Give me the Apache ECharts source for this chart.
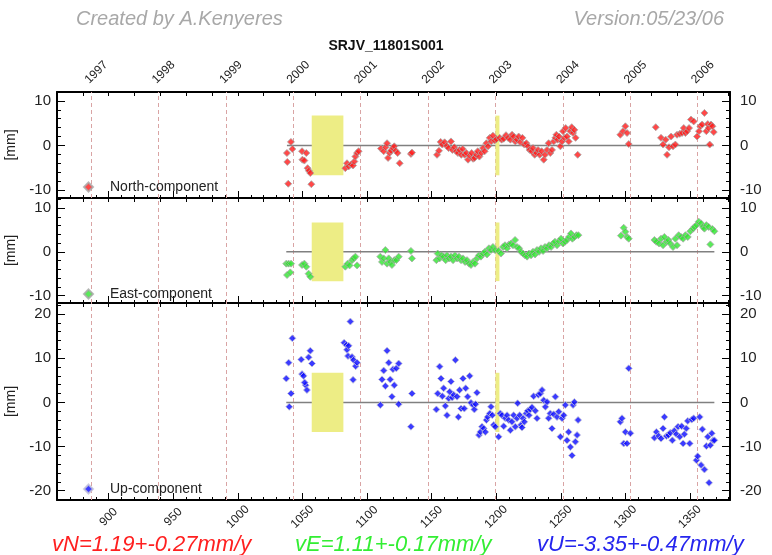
<!DOCTYPE html>
<html><head><meta charset="utf-8">
<script src="https://cdn.jsdelivr.net/npm/echarts@6/dist/echarts.min.js"></script>
<style>html,body{margin:0;padding:0;background:#fff}#c{width:772px;height:555px}</style>
</head><body><div id="c"></div>
<script>
// ---------------- DATA ----------------
const stationName = 'SRJV_11801S001';
const creditText = 'Created by A.Kenyeres';
const versionText = 'Version:05/23/06';
const yearTicks = [1997, 1998, 1999, 2000, 2001, 2002, 2003, 2004, 2005, 2006];
const weekTicks = [900, 950, 1000, 1050, 1100, 1150, 1200, 1250, 1300, 1350];
const yTicksNE = [-10, 0, 10];
const yTicksU = [-20, -10, 0, 10, 20];
const velocityTexts = ['vN=1.19+-0.27mm/y', 'vE=1.11+-0.17mm/y', 'vU=-3.35+-0.47mm/y'];
// equipment-change spans [GPS week start, end] and half height of the marker box (mm)
const gapSpans = [[1057.2, 1081.7], [1199.4, 1202.5]];
const gapHalfHeight = [6.7];

const northData = [
 [1038.0,-1.7],[1038.3,-3.7],[1039.0,-8.6],[1041.1,0.8],[1042.2,-0.8],[1049.7,-1.3],[1050.0,-3.2],[1051.5,-3.4],
 [1053.0,-1.7],[1054.0,-5.1],[1055.0,-5.7],[1056.1,-6.2],[1056.9,-8.7],
 [1083.2,-5.1],[1084.5,-4.0],[1085.8,-4.7],[1087.6,-4.3],[1089.2,-4.5],[1090.2,-3.6],[1091.0,-2.5],[1092.3,-1.7],[1093.5,-1.3],
 [1110.8,-0.7],[1112.9,-1.3],[1114.4,-0.4],[1115.5,0.5],[1116.3,-2.8],[1117.5,-1.7],[1118.6,-1.2],[1120.1,-0.6],
 [1121.1,-0.2],[1122.2,-1.2],[1123.7,-1.7],[1125.3,-4.0],[1134.0,-1.9],[1134.8,-1.6],
 [1154.2,-2.1],[1155.7,-1.2],[1157.0,0.8],[1158.3,0.2],[1160.1,0.7],[1161.7,-0.1],[1163.2,-0.6],[1165.0,0.9],
 [1166.1,-1.0],[1167.6,-0.4],[1169.1,-1.3],[1170.4,-1.7],[1171.7,-1.0],[1173.0,-2.1],[1174.1,-0.8],[1175.6,-2.1],
 [1176.9,-1.7],[1178.2,-3.2],[1179.5,-2.3],[1181.0,-1.7],[1182.1,-3.0],[1183.3,-2.8],[1184.6,-2.1],[1185.7,-1.3],
 [1187.0,-2.5],[1188.5,-1.7],[1189.8,-0.6],[1191.1,-1.3],[1192.4,0.5],[1193.7,-0.2],[1195.0,1.7],[1196.2,0.9],
 [1197.5,2.2],[1198.8,1.1],[1200.1,1.4],
 [1202.7,1.7],[1204.2,1.3],[1205.8,1.5],[1207.6,2.3],[1209.2,1.7],[1211.0,1.3],[1212.3,2.4],[1213.5,2.0],
 [1214.8,0.9],[1216.1,1.3],[1217.4,2.0],[1218.7,0.7],[1220.3,1.7],[1221.8,0.2],[1223.4,0.5],[1224.6,-0.2],
 [1225.9,-1.0],[1227.5,-1.3],[1228.5,-0.6],[1229.8,-2.1],[1231.1,-1.7],[1232.4,-1.0],[1233.7,-2.1],[1235.2,-1.3],
 [1236.8,-3.2],[1237.8,-2.1],[1239.4,-1.0],[1240.6,0.5],[1241.9,-1.7],[1243.2,-1.0],[1244.5,0.9],[1245.8,1.7],
 [1246.6,2.4],[1247.6,1.3],[1248.6,2.0],[1249.7,-0.2],[1251.0,0.9],[1251.7,3.2],[1252.8,1.7],[1253.8,3.9],
 [1254.8,2.0],[1256.1,0.9],[1257.4,3.2],[1258.5,4.1],[1259.5,2.8],[1260.5,3.5],[1261.5,1.7],[1263.1,-2.1],
 [1296.1,2.4],[1298.2,3.2],[1300.0,4.3],[1301.3,2.8],[1302.6,0.3],
 [1323.5,4.1],[1327.6,1.7],[1329.2,0.2],[1331.2,1.3],[1332.3,-2.1],[1333.8,-0.4],[1335.4,2.0],[1336.9,-0.2],
 [1338.7,0.2],[1340.0,2.4],[1342.1,2.6],[1343.9,2.8],[1345.2,3.9],[1346.5,2.8],[1347.8,3.2],[1349.3,3.9],
 [1350.8,5.8],[1352.9,5.4],[1355.5,2.0],[1357.0,3.2],[1358.1,4.3],[1359.4,4.7],[1361.2,7.3],[1362.7,3.2],
 [1363.8,4.8],[1364.5,3.9],[1365.3,0.2],[1366.3,4.7],[1367.4,4.3],[1368.4,3.0]
];

const eastData = [
 [1037.5,-2.7],[1039.3,-2.7],[1041.2,-2.7],[1038.1,-5.3],[1040.6,-4.7],[1049.7,-3.0],[1051.5,-2.7],[1053.0,-3.4],
 [1054.8,-5.0],[1056.1,-5.7],
 [1083.2,-3.4],[1085.0,-2.7],[1086.5,-3.1],[1088.4,-1.9],[1089.6,-1.5],[1091.0,-1.1],[1092.3,-3.1],
 [1110.3,-1.1],[1111.6,-2.3],[1112.9,-1.5],[1114.2,0.4],[1115.5,-2.7],[1116.8,-1.5],[1118.0,-2.3],[1119.3,-3.0],
 [1121.1,-1.9],[1122.7,-1.9],[1124.5,-1.1],[1134.0,0.2],[1134.8,-1.5],
 [1153.7,-1.9],[1154.7,-0.4],[1156.2,-1.5],[1157.8,-0.8],[1159.3,-1.1],[1160.9,-1.9],[1161.9,-0.8],[1163.5,-1.5],
 [1165.0,-1.1],[1166.6,-1.9],[1168.1,-0.8],[1169.7,-1.5],[1171.2,-1.1],[1172.8,-1.9],[1174.3,-1.5],[1175.9,-2.3],
 [1177.4,-1.9],[1179.0,-2.7],[1180.5,-3.0],[1182.1,-2.3],[1183.6,-2.7],[1185.1,-1.5],[1186.7,-0.8],[1188.2,-1.1],
 [1189.8,-0.4],[1191.3,0.0],[1192.9,-0.6],[1194.4,0.8],[1196.0,0.4],[1197.5,1.1],[1199.1,0.4],
 [1201.9,0.2],[1203.7,-0.4],[1205.3,1.1],[1206.8,1.5],[1208.4,0.8],[1209.9,1.7],[1211.5,1.9],[1213.0,1.5],
 [1214.6,2.7],[1216.1,1.1],[1217.7,0.8],[1219.2,0.0],[1220.8,-0.4],[1222.3,-0.8],[1223.9,-1.1],[1225.4,-0.4],
 [1227.0,-0.8],[1228.5,0.0],[1230.1,-0.6],[1231.6,0.4],[1233.2,0.0],[1234.7,0.8],[1236.3,0.2],[1237.8,1.1],
 [1239.4,0.8],[1240.9,1.5],[1242.5,1.1],[1244.0,1.9],[1245.5,2.3],[1247.1,1.5],[1248.6,2.4],[1250.2,3.0],
 [1251.7,1.9],[1253.3,2.3],[1254.8,2.7],[1256.4,3.4],[1257.9,4.2],[1259.0,3.0],[1260.5,3.4],[1262.1,3.8],[1263.6,3.8],
 [1296.6,3.7],[1298.7,5.5],[1300.0,4.6],[1301.3,3.4],[1302.6,3.0],
 [1322.5,2.7],[1324.0,2.3],[1326.1,1.9],[1327.6,3.0],[1329.2,1.5],[1330.2,3.4],[1331.8,2.3],[1333.3,2.7],
 [1334.8,1.9],[1336.9,1.1],[1338.7,3.0],[1340.0,1.5],[1341.3,3.8],[1343.1,3.4],[1344.7,3.0],[1346.5,3.8],
 [1348.3,3.4],[1350.3,4.7],[1352.4,5.3],[1353.4,5.7],[1355.0,6.1],[1356.8,6.9],[1358.6,6.5],[1360.1,5.7],
 [1361.2,5.3],[1362.7,6.1],[1364.5,5.7],[1365.8,1.7],[1367.4,5.2],[1368.9,4.7]
];

const upData = [
 [1037.5,5.4],[1039.3,9.0],[1042.2,14.5],[1041.2,2.0],[1039.8,-1.0],[1049.1,9.7],[1049.7,6.4],[1050.9,6.0],
 [1052.5,3.9],[1053.5,2.8],[1054.8,10.2],[1056.1,11.7],[1057.4,8.8],[1051.7,4.5],
 [1082.3,13.5],[1084.0,13.0],[1084.5,11.9],[1085.8,12.8],[1087.1,18.3],[1085.3,10.5],[1088.4,10.3],[1089.6,9.6],
 [1091.2,8.2],[1092.3,9.0],[1089.2,5.1],
 [1110.3,-0.6],[1111.6,5.2],[1112.9,7.2],[1114.2,3.7],[1115.5,11.7],[1116.8,9.0],[1118.0,5.2],[1119.3,1.3],
 [1120.1,7.5],[1121.1,3.9],[1122.7,7.7],[1124.5,8.8],[1124.5,-0.4],[1134.0,-5.5],[1134.8,2.0],
 [1153.7,-1.6],[1154.7,2.0],[1156.2,8.1],[1157.3,5.4],[1158.3,1.4],[1159.3,3.2],[1160.6,-0.8],[1161.9,-2.9],
 [1163.2,0.9],[1164.0,2.4],[1165.0,4.7],[1166.0,1.1],[1167.1,1.7],[1168.4,9.6],[1169.7,1.3],[1170.7,-3.3],
 [1171.7,2.8],[1172.8,-1.4],[1174.3,5.4],[1175.3,-1.4],[1176.4,3.2],[1177.9,1.3],[1179.5,6.0],[1180.5,-0.1],
 [1182.1,-0.6],[1183.1,-1.6],[1184.1,-0.4],[1185.1,2.2],[1186.7,-7.4],[1187.7,-6.7],[1189.0,-5.5],[1190.3,-5.9],
 [1191.6,-6.7],[1192.4,-4.0],[1193.4,-3.3],[1195.0,-2.5],[1196.0,-1.0],[1197.0,-2.9],[1198.1,-5.1],[1199.3,-5.5],
 [1201.9,-7.8],[1203.2,-2.5],[1204.5,-2.9],[1205.8,-5.4],[1207.1,-3.6],[1208.4,-2.9],[1209.7,-4.0],[1211.0,-6.3],
 [1212.2,-4.4],[1213.5,-2.9],[1214.8,-5.5],[1216.1,-3.6],[1216.6,-0.2],[1218.2,-2.9],[1219.2,-5.1],[1220.0,-5.7],
 [1220.8,-3.6],[1221.8,-4.4],[1223.3,-2.5],[1224.4,-1.9],[1225.4,-2.9],[1226.4,-1.6],[1227.7,-1.1],[1229.0,1.4],
 [1230.3,-1.9],[1231.6,-3.6],[1232.6,1.7],[1234.2,2.0],[1235.5,2.8],[1236.8,0.5],[1238.1,-1.0],[1239.4,0.1],
 [1240.6,-3.6],[1241.9,-2.5],[1243.2,-5.9],[1244.5,-2.7],[1245.8,1.3],[1247.1,-3.3],[1248.4,-2.1],[1249.7,-7.8],
 [1251.0,-3.6],[1252.3,-2.9],[1253.5,-0.6],[1254.8,-8.6],[1256.1,-6.7],[1257.4,-10.1],[1258.7,-12.0],[1259.5,-0.6],
 [1260.5,0.1],[1261.3,-8.9],[1262.6,-7.4],[1263.4,-4.0],
 [1296.1,-4.4],[1297.4,-3.6],[1298.7,-9.3],[1300.0,-6.7],[1301.3,-9.3],[1302.6,7.7],[1303.9,-7.0],
 [1322.5,-8.0],[1324.0,-6.7],[1325.8,-7.6],[1327.6,-8.2],[1329.2,-5.9],[1330.2,-3.3],[1331.8,-7.6],[1333.3,-7.4],
 [1334.8,-6.9],[1336.4,-8.6],[1337.9,-6.4],[1339.5,-7.2],[1340.8,-5.5],[1342.1,-7.8],[1343.6,-5.4],[1344.7,-9.3],
 [1345.7,-7.2],[1347.2,-5.9],[1348.3,-4.2],[1349.8,-9.3],[1351.4,-3.9],[1352.9,-3.6],[1355.0,-13.1],[1356.0,-12.2],
 [1357.6,-3.3],[1358.6,-14.2],[1359.6,-6.1],[1361.2,-15.2],[1362.7,-9.9],[1363.8,-7.8],[1364.8,-18.2],[1365.8,-9.7],
 [1366.9,-7.0],[1367.9,-8.6],[1368.9,-8.6]
];

// ---------------- CHART ----------------
const FONT = '"Liberation Sans", Arial, Helvetica, sans-serif';
const X_MIN = 860, X_MAX = 1381;
const GPS0 = Date.UTC(1980, 0, 6);
const yearWeeks = yearTicks.map(y => (Date.UTC(y, 0, 1) - GPS0) / (7 * 86400000));
function range(a, b, s) { const r = []; for (let v = a; v <= b + 1e-9; v += s) r.push(+v.toFixed(4)); return r; }

const panels = [
  { name: 'North-component', data: northData, color: '#ff1a1a', border: '#a8a8a8', min: -11.8, max: 12.0, ticks: yTicksNE, top: 92, height: 106, legendTop: 175 },
  { name: 'East-component',  data: eastData,  color: '#2ee62e', border: '#a8a8a8', min: -11.7, max: 12.3, ticks: yTicksNE, top: 198, height: 105, legendTop: 282 },
  { name: 'Up-component',    data: upData,    color: '#0a0aff', border: '#c4c4d8', min: -22.1, max: 22.5, ticks: yTicksU,  top: 303, height: 197, legendTop: 477 }
];

const grid = [], xAxis = [], yAxis = [], series = [], legend = [];
const lineBlack = { color: '#000', width: 2 };
const tickStyle = { color: '#000', width: 1 };

panels.forEach((p, gi) => {
  grid.push({ left: 57, right: 42, top: p.top, height: p.height, containLabel: false, outerBoundsMode: 'none' });
  const xi = xAxis.length;
  const baseX = { type: 'value', gridIndex: gi, min: X_MIN, max: X_MAX, splitLine: { show: false } };
  // bottom: minor ticks + week labels
  xAxis.push(Object.assign({}, baseX, {
    position: 'bottom',
    axisLine: { show: true, onZero: false, lineStyle: lineBlack },
    axisTick: { show: true, inside: true, length: 3, customValues: range(860, 1380, 10), lineStyle: tickStyle },
    axisLabel: { show: gi === 2, customValues: weekTicks, rotate: 45, align: 'center', verticalAlign: 'middle',
                 margin: 17, fontSize: 12, color: '#222', fontFamily: FONT, formatter: v => String(v) }
  }));
  // bottom: major ticks
  xAxis.push(Object.assign({}, baseX, {
    position: 'bottom',
    axisLine: { show: false, onZero: false },
    axisTick: { show: true, inside: true, length: 7, customValues: weekTicks, lineStyle: tickStyle },
    axisLabel: { show: false }
  }));
  // top: ticks + year labels
  xAxis.push(Object.assign({}, baseX, {
    position: 'top',
    axisLine: { show: true, onZero: false, lineStyle: lineBlack },
    axisTick: { show: true, inside: true, length: 4, customValues: range(880, 1380, 20), lineStyle: tickStyle },
    axisLabel: { show: gi === 0, customValues: yearWeeks, rotate: -45, align: 'left', verticalAlign: 'bottom', margin: 6,
                 fontSize: 12, color: '#222', fontFamily: FONT,
                 formatter: v => String(yearTicks[yearWeeks.findIndex(w => Math.abs(w - v) < 1e-3)]) }
  }));

  const yi = yAxis.length;
  const minorY = range(Math.ceil(p.min / 2) * 2, p.max, 2);
  const baseY = { type: 'value', gridIndex: gi, min: p.min, max: p.max, splitLine: { show: false } };
  ['left', 'right'].forEach(side => {
    yAxis.push(Object.assign({}, baseY, {
      position: side,
      axisLine: { show: true, onZero: false, lineStyle: lineBlack },
      axisTick: { show: true, inside: true, length: 4, customValues: minorY, lineStyle: tickStyle },
      axisLabel: { show: false }
    }));
    yAxis.push(Object.assign({}, baseY, {
      position: side,
      axisLine: { show: false, onZero: false },
      axisTick: { show: true, inside: true, length: 8, customValues: p.ticks, lineStyle: tickStyle },
      axisLabel: { show: true, customValues: p.ticks, fontSize: 15, color: '#222', fontFamily: FONT, margin: side === 'left' ? 6 : 10 },
      name: '[mm]', nameLocation: 'middle', nameGap: side === 'left' ? 31 : 30, nameRotate: side === 'left' ? 90 : -90,
      nameTextStyle: { fontSize: 14, color: '#222', fontFamily: FONT }
    }));
  });

  const ws = p.data.map(d => d[0]);
  const wMin = Math.min.apply(null, ws), wMax = Math.max.apply(null, ws);
  // zero line + year dashed lines
  series.push({
    type: 'line', xAxisIndex: xi, yAxisIndex: yi, z: 1, silent: true, symbol: 'none', animation: false,
    data: [[wMin, 0], [wMax, 0]],
    lineStyle: { color: '#808080', width: 1.5 },
    markLine: {
      z: 1, silent: true, symbol: ['none', 'none'], animation: false, label: { show: false },
      lineStyle: { color: '#d9a4a4', type: [4, 3], width: 1 },
      data: yearWeeks.map(w => ({ xAxis: w }))
    }
  });
  // scatter points + yellow boxes
  series.push({
    type: 'scatter', name: p.name, xAxisIndex: xi, yAxisIndex: yi, z: 3, animation: false,
    symbol: 'diamond', symbolSize: 7,
    itemStyle: { color: p.color, borderColor: p.border, borderWidth: 1 },
    data: p.data,
    markArea: {
      z: 2, silent: true, animation: false,
      itemStyle: { color: '#eded85', opacity: 1 },
      data: gapSpans.map(s => [{ xAxis: s[0], yAxis: -gapHalfHeight[0] }, { xAxis: s[1], yAxis: gapHalfHeight[0] }])
    }
  });
  legend.push({
    data: [p.name], left: 78, top: p.legendTop, orient: 'vertical', icon: 'diamond', itemWidth: 9, itemHeight: 9,
    selectedMode: false, textStyle: { fontSize: 14, color: '#222', fontFamily: FONT, padding: [0, 0, 0, 12] }
  });
});

const velColors = ['#ff2020', '#33ee33', '#2525ee'];
const velX = [52, 295, 537];
const graphic = [
  { type: 'text', left: 76, top: 9, style: { text: creditText, fill: '#a8a8a8', font: 'italic 20px ' + FONT } },
  { type: 'text', right: 48, top: 9, style: { text: versionText, fill: '#a8a8a8', font: 'italic 20px ' + FONT } },
  { type: 'text', left: 'center', top: 39, style: { text: stationName, fill: '#111', font: 'bold 14px ' + FONT } }
].concat(velocityTexts.map((t, i) => ({
  type: 'text', left: velX[i], top: 534, style: { text: t, fill: velColors[i], font: 'italic 22px ' + FONT }
})));

const chart = echarts.init(document.getElementById('c'), null, { renderer: 'canvas' });
chart.setOption({
  animation: false,
  backgroundColor: '#fff',
  grid, xAxis, yAxis, series, legend, graphic
});
</script>
</body></html>
